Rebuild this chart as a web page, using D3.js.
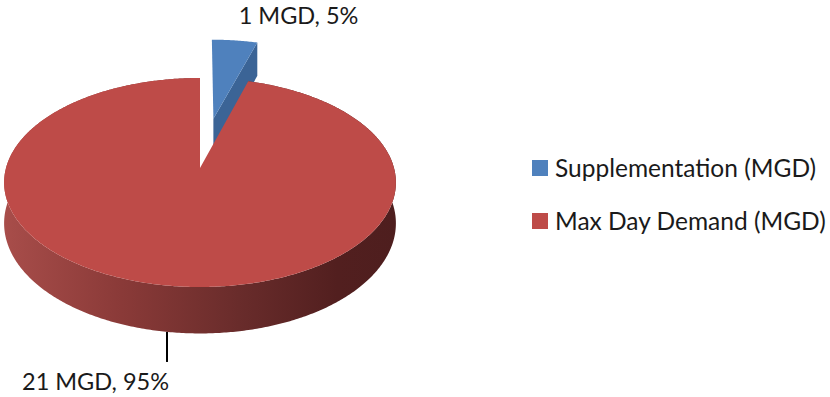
<!DOCTYPE html>
<html>
<head>
<meta charset="utf-8">
<script src="https://cdn.jsdelivr.net/npm/d3@7"></script>
<style>
  html, body { margin: 0; padding: 0; background: #fff; }
  svg { display: block; }
  text { font-family: Lato, "Open Sans", sans-serif; fill: #1a1a1a; }
</style>
</head>
<body>
<svg id="chart" width="830" height="397"></svg>
<script>
// Water supply breakdown (million gallons per day)
const categories = ["Supplementation (MGD)", "Max Day Demand (MGD)"];
const values = [1, 21];
const units = "MGD";

const topColors = ["#4F81BD", "#BE4B48"];
const wallColors = ["#3B6496", "#8E3A38"];

const svg = d3.select("#chart");

// 3D pie geometry: a tilted disc seen in perspective
const geo = {
  cx: 200, cy: 168,     // projected centre of the disc
  A: 194, B: 102.5,     // horizontal / vertical radii scale
  k: 0.1387,            // perspective strength (near edge looks larger)
  depth: 40             // thickness of the disc
};
const explode = [0.52, 0];   // radial offset of each slice (fraction of radius)

// project polar point on the disc (angle a clockwise from 12 o'clock, radius r, level z 0=top 1=bottom)
function project(a, r, z, off) {
  const u = off.u + r * Math.sin(a);
  const v = off.v - r * Math.cos(a);
  const s = 1 - geo.k * v;
  return [geo.cx + geo.A * u / s, geo.cy + (geo.B * v + geo.depth * z) / s];
}

const pie = d3.pie().sort(null).value(d => d).startAngle(0).endAngle(2 * Math.PI);
const arcs = pie(values);
const total = d3.sum(values);
const pct = d3.format(".0%");

arcs.forEach((d, i) => {
  const m = (d.startAngle + d.endAngle) / 2;
  d.off = { u: explode[i] * Math.sin(m), v: -explode[i] * Math.cos(m) };
  d.mid = m;
});

const line = d3.line();
function arcPoints(a0, a1, z, off) {
  const n = Math.max(8, Math.ceil(Math.abs(a1 - a0) / 0.01));
  return d3.range(n + 1).map(j => project(a0 + (a1 - a0) * j / n, 1, z, off));
}

const defs = svg.append("defs");
const grad = defs.append("linearGradient")
  .attr("id", "sideShade")
  .attr("gradientUnits", "userSpaceOnUse")
  .attr("x1", geo.cx - geo.A * 1.01).attr("x2", geo.cx + geo.A * 1.01)
  .attr("y1", 0).attr("y2", 0);
[[0, "#A84D4A"], [0.3, "#8A3A38"], [0.6, "#692C2B"], [0.85, "#521F1F"], [1, "#4E1E1E"]]
  .forEach(s => grad.append("stop").attr("offset", s[0]).attr("stop-color", s[1]));

const gPie = svg.append("g");

// Supplementation slice (exploded, drawn first since it sits behind)
const blue = arcs[0];
{
  const o = blue.off;
  // radial wall at the slice's trailing edge
  const wall = [project(0, 0, 0, o), project(blue.endAngle, 1, 0, o),
                project(blue.endAngle, 1, 1, o), project(0, 0, 1, o)];
  gPie.append("path").attr("d", line(wall) + "Z").attr("fill", wallColors[0]);
  const top = [project(0, 0, 0, o)].concat(arcPoints(blue.startAngle, blue.endAngle, 0, o));
  gPie.append("path").attr("d", line(top) + "Z").attr("fill", topColors[0]);
}

// Max Day Demand slice
const red = arcs[1];
{
  const o = red.off;
  const side = arcPoints(red.startAngle, red.endAngle, 0, o)
    .concat(arcPoints(red.endAngle, red.startAngle, 1, o));
  gPie.append("path").attr("d", line(side) + "Z").attr("fill", "url(#sideShade)");
  const top = [project(0, 0, 0, o)].concat(arcPoints(red.startAngle, red.endAngle, 0, o));
  gPie.append("path").attr("d", line(top) + "Z").attr("fill", topColors[1]);
}

// Data labels
const labelText = d => `${d.value} ${units}, ${pct(d.value / total)}`;
{
  const p = project(blue.mid, 1, 0, blue.off);
  svg.append("text")
    .attr("x", p[0] + 4).attr("y", p[1] - 16)
    .attr("font-size", 23.5)
    .text(labelText(blue));
}
{
  const p = project(red.mid, 1, 1, red.off);
  const lx = p[0] - 1;
  svg.append("line")
    .attr("x1", lx).attr("x2", lx)
    .attr("y1", p[1]).attr("y2", p[1] + 30)
    .attr("stroke", "#000").attr("stroke-width", 2);
  svg.append("text")
    .attr("x", lx + 2).attr("y", p[1] + 58)
    .attr("text-anchor", "end")
    .attr("font-size", 23.5)
    .text(labelText(red));
}

// Legend
const legend = svg.append("g").attr("transform", "translate(532,160)");
categories.forEach((c, i) => {
  const g = legend.append("g").attr("transform", `translate(0,${i * 53})`);
  g.append("rect").attr("width", 16).attr("height", 16).attr("fill", topColors[i]);
  g.append("text").attr("x", 23).attr("y", 17).attr("font-size", 24.5).text(c);
});
</script>
</body>
</html>
